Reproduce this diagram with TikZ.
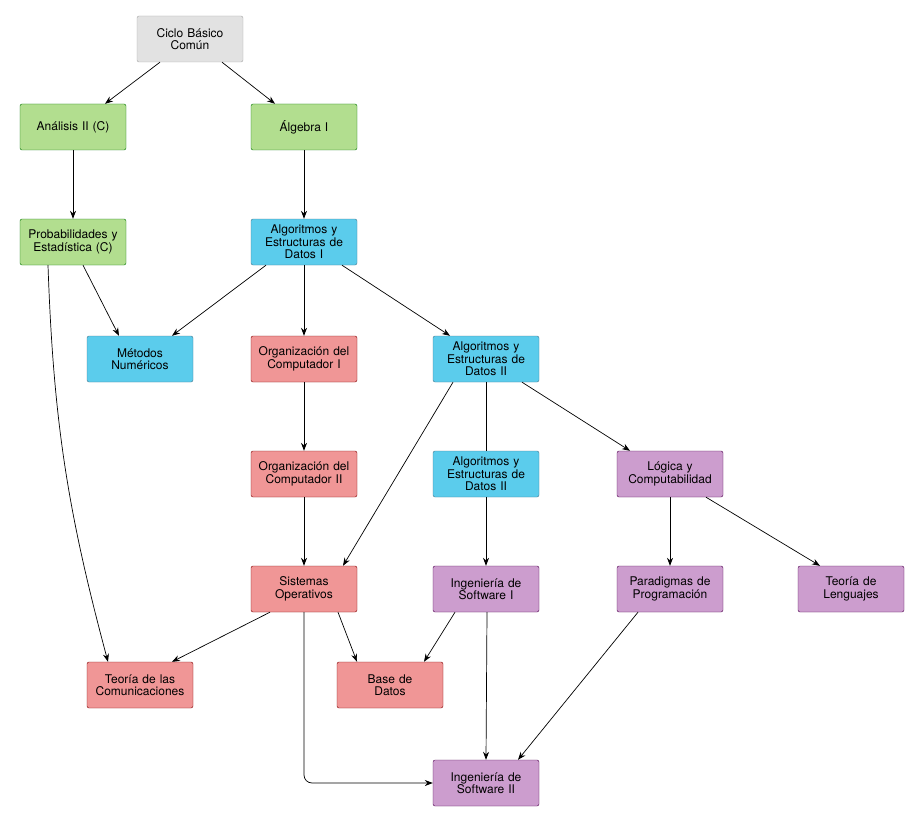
\documentclass[tikz,border=0pt]{standalone}
\usepackage{fontspec}
\setmainfont{TeX Gyre Heros}
\usetikzlibrary{arrows.meta}
\definecolor{cgray}{HTML}{E2E2E2}
\definecolor{cgreen}{HTML}{B2DE8F}
\definecolor{cblue}{HTML}{5BCCEC}
\definecolor{cred}{HTML}{F09696}
\definecolor{cpurple}{HTML}{CC9DCE}
\tikzset{
  subj/.style={draw, rounded corners=2pt, minimum width=106pt, minimum height=46pt,
    text width=100pt, align=center, inner sep=1pt, font=\fontsize{12}{12.5}\selectfont},
  gray/.style={subj, fill=cgray, draw=gray!70},
  green/.style={subj, fill=cgreen, draw=green!45!black},
  blue/.style={subj, fill=cblue, draw=cyan!50!black},
  red/.style={subj, fill=cred, draw=red!50!black},
  purple/.style={subj, fill=cpurple, draw=violet!60!black},
  arr/.style={-{Stealth[length=8pt,width=6pt]}, line width=0.7pt},
}
\begin{document}
\begin{tikzpicture}[x=1pt,y=-1pt]
\useasboundingbox (0,0) rectangle (923,829);

\node[gray] (cbc) at (190,39) {Ciclo Básico\\Común};
\node[green] (an2) at (73,127) {Análisis II (C)};
\node[green] (alg1) at (304,127) {Álgebra I};
\node[green] (prob) at (73,242) {Probabilidades y\\Estadística (C)};
\node[blue] (aed1) at (304,242) {Algoritmos y\\Estructuras de\\Datos I};
\node[blue] (met) at (140,359) {Métodos\\Numéricos};
\node[red] (orga1) at (304,359) {Organización del\\Computador I};
\node[blue] (aed2) at (486,359) {Algoritmos y\\Estructuras de\\Datos II};
\node[red] (orga2) at (304,474) {Organización del\\Computador II};
\node[blue] (aed3) at (486,474) {Algoritmos y\\Estructuras de\\Datos II};
\node[purple] (logica) at (670,474) {Lógica y\\Computabilidad};
\node[red] (so) at (304,589) {Sistemas\\Operativos};
\node[purple] (is1) at (486,589) {Ingeniería de\\Software I};
\node[purple] (plp) at (670,589) {Paradigmas de\\Programación};
\node[purple] (tleng) at (851,589) {Teoría de\\Lenguajes};
\node[red] (tc) at (140,685) {Teoría de las\\Comunicaciones};
\node[red] (bd) at (390,685) {Base de\\Datos};
\node[purple] (is2) at (486,783) {Ingeniería de\\Software II};

\draw[arr] ([xshift=-30pt]cbc.south) -- ([xshift=32pt]an2.north);
\draw[arr] ([xshift=32pt]cbc.south) -- ([xshift=-29pt]alg1.north);
\draw[arr] (an2) -- (prob);
\draw[arr] (alg1) -- (aed1);
\draw[arr] ([xshift=10pt]prob.south) -- ([xshift=-21pt]met.north);
\draw[arr] ([xshift=-25pt]prob.south) to[out=-88,in=105] ([xshift=-32pt]tc.north);
\draw[arr] ([xshift=-38pt]aed1.south) -- ([xshift=32pt]met.north);
\draw[arr] (aed1) -- (orga1);
\draw[arr] ([xshift=38pt]aed1.south) -- ([xshift=-36pt]aed2.north);
\draw[arr] (orga1) -- (orga2);
\draw[arr] (orga2) -- (so);
\draw[line width=0.7pt] (aed2) -- (aed3);
\draw[arr] ([xshift=-33pt]aed2.south) -- ([xshift=39pt]so.north);
\draw[arr] ([xshift=36pt]aed2.south) -- ([xshift=-40pt]logica.north);
\draw[arr] (aed3) -- (is1);
\draw[arr] (logica) -- (plp);
\draw[arr] ([xshift=36pt]logica.south) -- ([xshift=-31pt]tleng.north);
\draw[arr] ([xshift=-34pt]so.south) -- ([xshift=32pt]tc.north);
\draw[arr] ([xshift=34pt]so.south) -- ([xshift=-33pt]bd.north);
\draw[arr, rounded corners=8pt] (so.south) |- (is2.west);
\draw[arr] ([xshift=-31pt]is1.south) -- ([xshift=34pt]bd.north);
\draw[arr] ([xshift=1pt]is1.south) -- (is2.north);
\draw[arr] ([xshift=-32pt]plp.south) -- ([xshift=32pt]is2.north);

\end{tikzpicture}
\end{document}
